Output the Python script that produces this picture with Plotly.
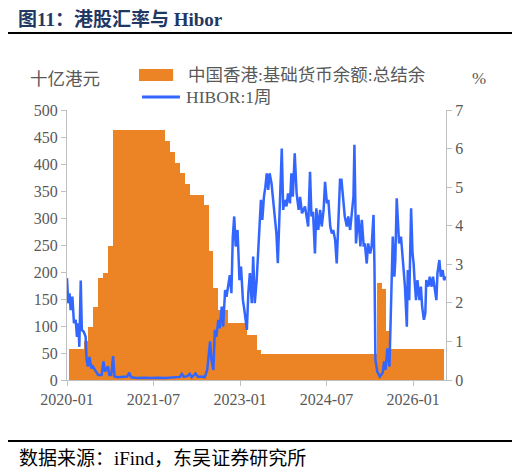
import plotly.graph_objects as go

# 中国香港:基础货币余额:总结余 (十亿港元), month-end values 2020-01 .. 2026-06
balance_months = [
    "2020-01-31", "2020-02-29", "2020-03-31", "2020-04-30", "2020-05-31", "2020-06-30",
    "2020-07-31", "2020-08-31", "2020-09-30", "2020-10-31", "2020-11-30", "2020-12-31",
    "2021-01-31", "2021-02-28", "2021-03-31", "2021-04-30", "2021-05-31", "2021-06-30",
    "2021-07-31", "2021-08-31", "2021-09-30", "2021-10-31", "2021-11-30", "2021-12-31",
    "2022-01-31", "2022-02-28", "2022-03-31", "2022-04-30", "2022-05-31", "2022-06-30",
    "2022-07-31", "2022-08-31", "2022-09-30", "2022-10-31", "2022-11-30", "2022-12-31",
    "2023-01-31", "2023-02-28", "2023-03-31", "2023-04-30", "2023-05-31", "2023-06-30",
    "2023-07-31", "2023-08-31", "2023-09-30", "2023-10-31", "2023-11-30", "2023-12-31",
    "2024-01-31", "2024-02-29", "2024-03-31", "2024-04-30", "2024-05-31", "2024-06-30",
    "2024-07-31", "2024-08-31", "2024-09-30", "2024-10-31", "2024-11-30", "2024-12-31",
    "2025-01-31", "2025-02-28", "2025-03-31", "2025-04-30", "2025-05-31", "2025-06-30",
    "2025-07-31", "2025-08-31", "2025-09-30", "2025-10-31", "2025-11-30", "2025-12-31",
    "2026-01-31", "2026-02-28", "2026-03-31", "2026-04-30", "2026-05-31", "2026-06-30",
]
balance = [
    58, 58, 58, 72, 99, 136,
    188, 198, 248, 463, 463, 463,
    463, 463, 463, 463, 463, 463,
    463, 463, 443, 423, 402, 383,
    363, 343, 343, 342, 325, 238,
    170, 130, 130, 105, 105, 105,
    105, 83, 83, 55, 48, 48,
    48, 48, 48, 48, 48, 48,
    48, 48, 48, 48, 48, 48,
    48, 48, 48, 48, 48, 48,
    48, 48, 48, 48, 179, 168,
    91, 58, 58, 58, 58, 58,
    58, 58, 58, 58, 58, 58,
]

# HIBOR:1周 (%)
hibor_dates = [
    "2020-01-01", "2020-01-09", "2020-01-17", "2020-01-24", "2020-02-04", "2020-02-14",
    "2020-02-25", "2020-03-04", "2020-03-13", "2020-03-19", "2020-03-28", "2020-04-04",
    "2020-04-16", "2020-04-28", "2020-05-04", "2020-05-13", "2020-05-22", "2020-06-04",
    "2020-06-13", "2020-06-25", "2020-07-16", "2020-08-07", "2020-08-19", "2020-08-28",
    "2020-09-16", "2020-09-25", "2020-10-07", "2020-10-19", "2020-10-28", "2020-11-16",
    "2020-12-16", "2021-01-16", "2021-01-29", "2021-02-10", "2021-03-16", "2021-05-01",
    "2021-06-16", "2021-08-01", "2021-09-16", "2021-11-01", "2021-12-16", "2021-12-28",
    "2022-01-10", "2022-02-01", "2022-02-16", "2022-03-01", "2022-03-25", "2022-04-10",
    "2022-05-01", "2022-05-22", "2022-06-07", "2022-06-25", "2022-07-04", "2022-07-16",
    "2022-07-25", "2022-08-04", "2022-08-16", "2022-08-25", "2022-09-07", "2022-09-16",
    "2022-09-28", "2022-10-07", "2022-10-19", "2022-10-28", "2022-11-07", "2022-11-16",
    "2022-11-25", "2022-12-04", "2022-12-16", "2022-12-28", "2023-01-07", "2023-01-19",
    "2023-01-28", "2023-02-13", "2023-02-22", "2023-03-04", "2023-03-16", "2023-03-25",
    "2023-04-04", "2023-04-16", "2023-04-25", "2023-05-04", "2023-05-13", "2023-05-22",
    "2023-06-01", "2023-06-10", "2023-06-19", "2023-06-28", "2023-07-07", "2023-07-19",
    "2023-07-28", "2023-08-07", "2023-08-19", "2023-08-28", "2023-09-10", "2023-09-22",
    "2023-10-01", "2023-10-10", "2023-10-22", "2023-11-01", "2023-11-13", "2023-11-22",
    "2023-12-01", "2023-12-13", "2023-12-25", "2024-01-07", "2024-01-16", "2024-01-28",
    "2024-02-16", "2024-03-07", "2024-03-19", "2024-03-28", "2024-04-07", "2024-04-19",
    "2024-04-28", "2024-05-10", "2024-05-22", "2024-06-01", "2024-06-13", "2024-06-22",
    "2024-07-04", "2024-07-13", "2024-07-25", "2024-08-04", "2024-08-13", "2024-08-25",
    "2024-09-04", "2024-09-13", "2024-09-25", "2024-10-04", "2024-10-16", "2024-10-25",
    "2024-11-07", "2024-11-16", "2024-11-28", "2024-12-07", "2024-12-19", "2024-12-25",
    "2025-01-04", "2025-01-19", "2025-02-01", "2025-02-10", "2025-02-22", "2025-03-01",
    "2025-03-13", "2025-03-22", "2025-04-04", "2025-04-13", "2025-04-25", "2025-05-01",
    "2025-05-07", "2025-05-19", "2025-06-04", "2025-06-22", "2025-07-01", "2025-07-10",
    "2025-07-22", "2025-08-04", "2025-08-13", "2025-08-19", "2025-08-25", "2025-09-04",
    "2025-09-10", "2025-09-19", "2025-09-28", "2025-10-04", "2025-10-16", "2025-10-22",
    "2025-11-01", "2025-11-10", "2025-11-22", "2025-11-28", "2025-12-07", "2025-12-13",
    "2025-12-19", "2025-12-28", "2026-01-04", "2026-01-10", "2026-01-19", "2026-01-28",
    "2026-02-10", "2026-02-19", "2026-02-27", "2026-03-10", "2026-03-19", "2026-03-25",
    "2026-04-07", "2026-04-16", "2026-04-28", "2026-05-07", "2026-05-19", "2026-05-28",
    "2026-06-04", "2026-06-16", "2026-06-25", "2026-07-07", "2026-07-16", "2026-07-28",
]
hibor = [
    2.64, 1.99, 2.25, 1.81, 2.16, 1.47,
    1.56, 1.12, 1.47, 0.86, 2.58, 1.30,
    1.25, 1.12, 0.52, 0.35, 0.60, 0.30,
    0.35, 0.26, 0.13, 0.13, 0.48, 0.22,
    0.35, 0.13, 0.13, 0.62, 0.09, 0.07,
    0.08, 0.09, 0.19, 0.07, 0.05, 0.06,
    0.05, 0.06, 0.05, 0.07, 0.08, 0.16,
    0.08, 0.10, 0.16, 0.07, 0.17, 0.08,
    0.09, 0.07, 0.26, 1.00, 0.52, 0.26,
    1.30, 1.12, 1.56, 1.34, 1.90, 1.38,
    2.33, 2.16, 2.50, 2.72, 2.25, 3.72,
    4.24, 3.46, 3.89, 2.59, 2.94, 2.07,
    1.82, 1.30, 2.25, 2.77, 1.99, 3.20,
    1.99, 2.59, 3.28, 3.89, 4.67, 4.15,
    4.75, 5.00, 5.36, 4.93, 5.36, 5.10,
    4.71, 4.40, 3.80, 3.03, 4.75, 6.00,
    4.41, 4.67, 4.50, 4.84, 4.58, 5.36,
    4.75, 5.88, 4.84, 4.41, 4.75, 4.32,
    4.50, 3.98, 5.40, 4.24, 4.36, 3.28,
    4.45, 3.89, 4.41, 3.98, 4.41, 5.14,
    4.58, 4.67, 3.98, 3.80, 3.89, 3.63,
    3.02, 4.15, 5.19, 5.19, 4.50, 4.24,
    3.98, 4.24, 3.89, 4.24, 4.75, 6.10,
    3.54, 4.28, 3.46, 4.15, 3.46, 3.54,
    3.02, 3.54, 3.28, 3.46, 4.28, 2.94,
    0.52, 0.22, 0.09, 0.19, 0.48, 0.26,
    0.82, 0.35, 1.73, 2.77, 3.72, 2.68,
    3.11, 4.71, 4.15, 3.54, 3.72, 3.37,
    2.94, 2.42, 1.38, 2.85, 2.07, 3.63,
    4.45, 3.28, 3.02, 2.59, 2.07, 2.59,
    2.07, 2.42, 1.90, 1.56, 1.73, 2.59,
    2.42, 2.68, 2.42, 2.68, 2.33, 2.07,
    2.77, 3.11, 2.68, 2.85, 2.59, 2.68,
]

ORANGE = "#EC8426"
BLUE = "#3366FF"
GREY = "#595959"
AXIS = "#BFBFBF"
FONT = "Liberation Serif, Noto Sans CJK SC, serif"

# page body adds an 8px margin, so the figure sits 8px in from the window edge
W, H = 512, 466

fig = go.Figure()
fig.add_trace(go.Bar(
    x=balance_months, y=balance,
    width=31 * 24 * 3600 * 1000,
    marker=dict(color=ORANGE, line=dict(width=0)),
    name="中国香港:基础货币余额:总结余",
))
fig.add_trace(go.Scatter(
    x=hibor_dates, y=hibor, yaxis="y2",
    mode="lines", line=dict(color=BLUE, width=2.5),
    name="HIBOR:1周",
))

axis_common = dict(
    showgrid=False, zeroline=False, showline=True, linecolor=AXIS, linewidth=1,
    ticks="outside", ticklen=5, tickcolor=AXIS,
    tickfont=dict(family=FONT, size=16, color=GREY),
)

fig.update_layout(
    width=W, height=H,
    margin=dict(l=59, r=W - 438, t=102, b=H - 372),
    plot_bgcolor="white", paper_bgcolor="white",
    showlegend=False, bargap=0,
    font=dict(family=FONT, color=GREY),
    title=dict(
        text="<b>图11：港股汇率与 Hibor</b>",
        x=10 / W, xref="container", xanchor="left",
        y=1 - 11 / H, yref="container", yanchor="middle",
        font=dict(family=FONT, size=19, color="#1F3864"),
    ),
    xaxis=dict(
        axis_common, type="date",
        range=["2020-01-01", "2026-07-28"],
        tick0="2020-01-01", dtick="M18", tickformat="%Y-%m",
    ),
    yaxis=dict(axis_common, range=[0, 500], dtick=50),
    yaxis2=dict(axis_common, range=[0, 7], dtick=1, overlaying="y", side="right"),
)

# hand-drawn legend, unit labels, rules and source line (paper coords)
fig.add_shape(type="rect", xref="paper", yref="paper",
              x0=0.190, x1=0.280, y0=1.107, y1=1.152,
              fillcolor=ORANGE, line=dict(width=0))
fig.add_shape(type="line", xref="paper", yref="paper",
              x0=0.198, x1=0.298, y0=1.048, y1=1.048,
              line=dict(color=BLUE, width=3))
for x0, y0, txt in [(0.314, 1.130, "中国香港:基础货币余额:总结余"),
                    (0.309, 1.048, "HIBOR:1周")]:
    fig.add_annotation(x=x0, y=y0, xref="paper", yref="paper", text=txt,
                       showarrow=False, xanchor="left", yanchor="middle",
                       font=dict(family=FONT, size=17.5, color=GREY))

fig.add_annotation(x=-0.005, y=1.115, xref="paper", yref="paper", text="十亿港元",
                   showarrow=False, xanchor="center", yanchor="middle",
                   font=dict(family=FONT, size=17.5, color=GREY))
fig.add_annotation(x=1.087, y=1.115, xref="paper", yref="paper", text="%",
                   showarrow=False, xanchor="center", yanchor="middle",
                   font=dict(family=FONT, size=17, color=GREY))

for yy in (1.285, -0.226):
    fig.add_shape(type="line", xref="paper", yref="paper",
                  x0=-0.164, x1=1.182, y0=yy, y1=yy,
                  line=dict(color="black", width=2))

fig.add_annotation(x=-0.132, y=-0.289, xref="paper", yref="paper",
                   text="数据来源：iFind，东吴证券研究所",
                   showarrow=False, xanchor="left", yanchor="middle",
                   font=dict(family=FONT, size=19, color="black"))

fig.write_html("out.html")
